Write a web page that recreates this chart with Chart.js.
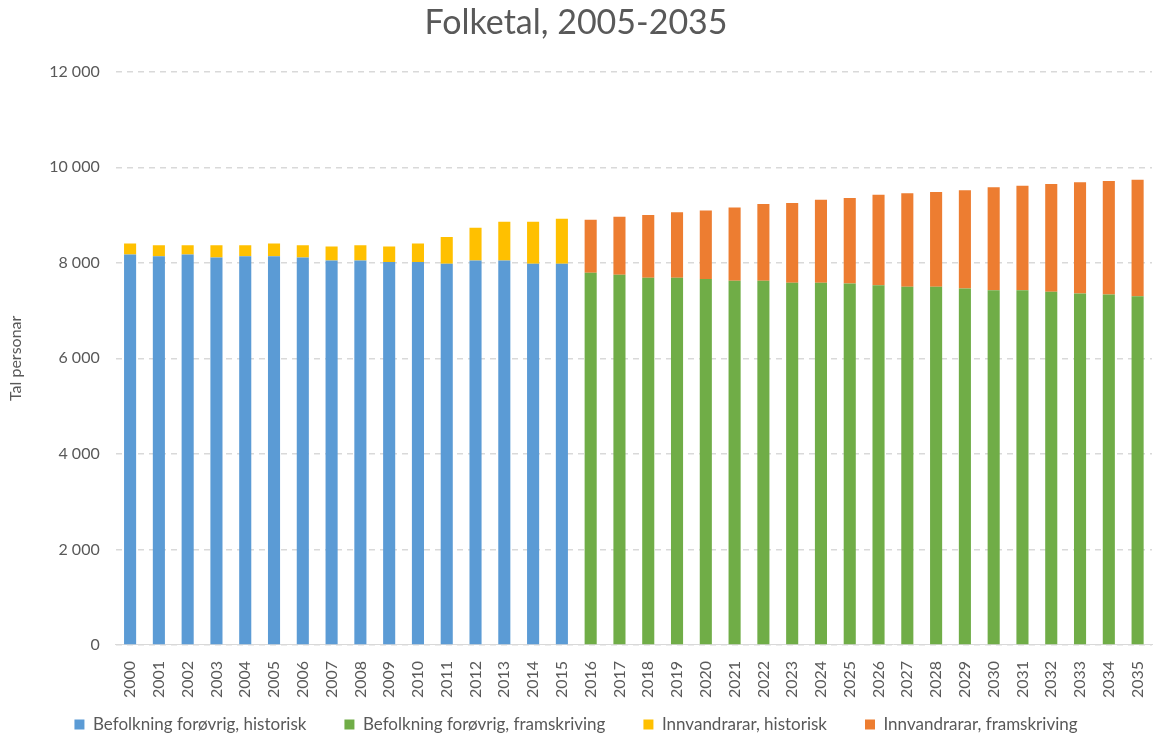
<!DOCTYPE html>
<html>
<head>
<meta charset="utf-8">
<script src="https://cdn.jsdelivr.net/npm/chart.js@4/dist/chart.umd.min.js"></script>
<style>
  body { margin: 0; background: #fff; }
  #c { display: block; }
</style>
</head>
<body>
<canvas id="c" width="1153" height="735"></canvas>
<script>
var years = ['2000','2001','2002','2003','2004','2005','2006','2007','2008','2009',
	'2010','2011','2012','2013','2014','2015','2016','2017','2018','2019',
	'2020','2021','2022','2023','2024','2025','2026','2027','2028','2029',
	'2030','2031','2032','2033','2034','2035'];

// historiske tal (2000-2015)
var baseHist = [8175, 8140, 8175, 8110, 8140, 8140, 8110, 8050, 8050, 8015,
	8015, 7980, 8050, 8050, 7980, 7980];
var innvHist = [228, 228, 193, 258, 228, 263, 258, 290, 318, 325,
	388, 560, 685, 810, 880, 945];

// framskriving (2016-2035)
var baseProj = [7790, 7750, 7690, 7690, 7660, 7625, 7625, 7585, 7585, 7565,
	7530, 7500, 7500, 7460, 7425, 7425, 7395, 7360, 7335, 7300];
var innvProj = [1110, 1215, 1310, 1370, 1435, 1535, 1605, 1670, 1735, 1790,
	1895, 1955, 1985, 2060, 2155, 2190, 2255, 2325, 2380, 2440];

function pad(arr, before, after) {
	var out = [];
	for (var i = 0; i < before; i++) out.push(null);
	out = out.concat(arr);
	for (var j = 0; j < after; j++) out.push(null);
	return out;
}

var nHist = baseHist.length, nProj = baseProj.length;
var grey = '#595959';
Chart.defaults.font.family = 'Lato, "Open Sans", sans-serif';
Chart.defaults.color = grey;

// legend sits tight under the rotated year labels, like in Excel
var tightLegend = {
	id: 'tightLegend',
	beforeInit: function (chart) {
		var lg = chart.legend;
		var fit = lg.fit;
		lg.fit = function () {
			fit.call(this);
			this.height = 29;
		};
	},
	afterLayout: function (chart) {
		// move only the top edge up, so the clip box still reaches the bottom
		chart.legend.top -= 28;
	}
};

var myBar = new Chart(document.getElementById('c'), {
	type: 'bar',
	data: {
		labels: years,
		datasets: [{
			label: 'Befolkning forøvrig, historisk',
			data: pad(baseHist, 0, nProj),
			backgroundColor: '#5B9BD5'
		}, {
			label: 'Befolkning forøvrig, framskriving',
			data: pad(baseProj, nHist, 0),
			backgroundColor: '#70AD47'
		}, {
			label: 'Innvandrarar, historisk',
			data: pad(innvHist, 0, nProj),
			backgroundColor: '#FFC000'
		}, {
			label: 'Innvandrarar, framskriving',
			data: pad(innvProj, nHist, 0),
			backgroundColor: '#ED7D31'
		}]
	},
	plugins: [tightLegend],
	options: {
		responsive: false,
		animation: false,
		layout: { padding: { left: 0, right: 1, top: 0, bottom: 0 } },
		datasets: { bar: { barPercentage: 0.42, categoryPercentage: 1 } },
		plugins: {
			title: {
				display: true,
				text: 'Folketal, 2005-2035',
				color: grey,
				font: { size: 34, weight: 'normal' },
				padding: { top: 3, bottom: 28 }
			},
			legend: {
				position: 'bottom',
				labels: {
					boxWidth: 10,
					boxHeight: 10,
					padding: 38,
					color: grey,
					font: { size: 17 }
				}
			},
			tooltip: { enabled: false }
		},
		scales: {
			x: {
				stacked: true,
				grid: { display: false },
				border: { display: true, color: '#D9D9D9', width: 1 },
				ticks: {
					minRotation: 90,
					maxRotation: 90,
					color: grey,
					font: { size: 16 },
					padding: 8
				},
				afterFit: function (scale) {
					scale.paddingLeft = 0;
					scale.paddingRight = 0;
				}
			},
			y: {
				stacked: true,
				min: 0,
				max: 12000,
				ticks: {
					stepSize: 2000,
					color: grey,
					font: { size: 16 },
					padding: 16,
					callback: function (v) {
						return String(v).replace(/\B(?=(\d{3})+(?!\d))/g, ' ');
					}
				},
				grid: { color: '#D9D9D9', lineWidth: 1.5, drawTicks: false },
				border: { display: false, dash: [6, 5] },
				title: {
					display: true,
					text: 'Tal personar',
					color: grey,
					font: { size: 16 },
					padding: { top: 6, bottom: 8 }
				}
			}
		}
	}
});
</script>
</body>
</html>
